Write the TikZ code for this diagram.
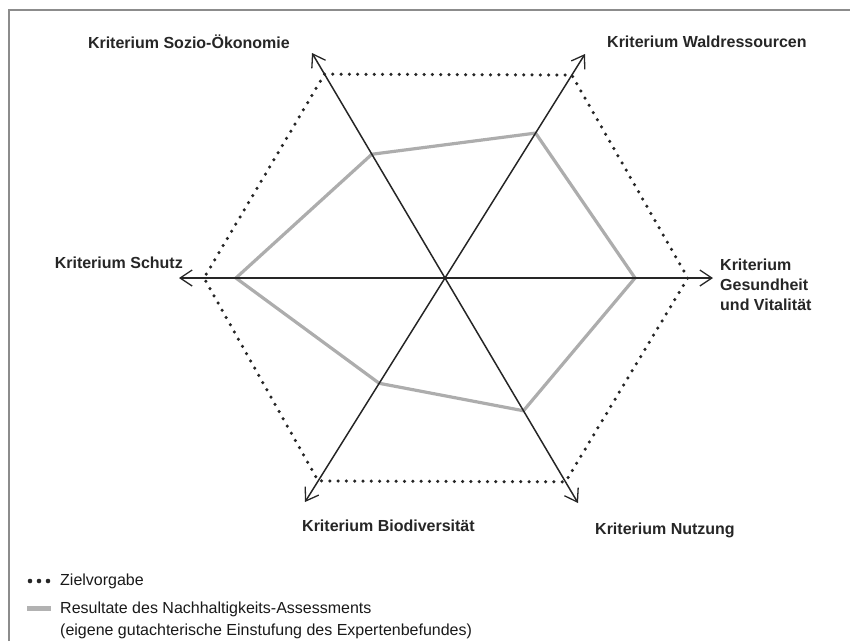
\documentclass[tikz,border=0pt]{standalone}
\usepackage{fontspec}
\setmainfont{Liberation Sans}
\usetikzlibrary{arrows.meta,calc}
\begin{document}
\begin{tikzpicture}[x=1pt,y=-1pt,
  axisline/.style={line width=1.5pt, draw=black!85, -{Straight Barb[length=12pt,width=16pt,line width=1.3pt]}},
  target/.style={line width=3.5pt, dash pattern=on 0pt off 8.3pt, line cap=round, draw=black!85},
  result/.style={line width=3.2pt, draw=black!32, line join=miter},
  lbl/.style={font=\fontsize{16}{20}\selectfont\bfseries, text=black!85, inner sep=0pt},
  leg/.style={font=\fontsize{16}{19}\selectfont, text=black!90, inner sep=0pt, anchor=west}
]
\useasboundingbox (0,0) rectangle (850,641);
\draw[black!45, line width=1.5pt] (9,641) -- (9,10) -- (850,10);

\coordinate (C) at (445,278);
\coordinate (tSO) at (312,53);
\coordinate (tWR) at (585,54);
\coordinate (tGV) at (713,278);
\coordinate (tNU) at (578,503);
\coordinate (tBD) at (305,502);
\coordinate (tSC) at (179,278);

% target hexagon
\draw[target] ($(C)!0.906!(tSO)$) -- ($(C)!0.906!(tWR)$) -- ($(C)!0.906!(tGV)$)
  -- ($(C)!0.906!(tNU)$) -- ($(C)!0.906!(tBD)$) -- ($(C)!0.906!(tSC)$) -- cycle;

% result polygon
\draw[result] ($(C)!0.55!(tSO)$) -- ($(C)!0.647!(tWR)$) -- ($(C)!0.709!(tGV)$)
  -- ($(C)!0.59!(tNU)$) -- ($(C)!0.47!(tBD)$) -- ($(C)!0.786!(tSC)$) -- cycle;

% axes
\foreach \t in {tSO,tWR,tGV,tNU,tBD,tSC} \draw[axisline] (C) -- (\t);

% labels
\node[lbl, anchor=east] (lSO) at (290,42) {Kriterium Sozio-Ökonomie};
\node[lbl, anchor=west] (lWR) at (607,42) {Kriterium Waldressourcen};
\node[lbl, anchor=east] (lSC) at (183,263) {Kriterium Schutz};
\node[lbl, anchor=west, align=left] (lGV) at (720,285) {Kriterium\\Gesundheit\\und Vitalität};
\node[lbl, anchor=west] (lBD) at (302,526) {Kriterium Biodiversität};
\node[lbl, anchor=west] (lNU) at (595,530) {Kriterium Nutzung};

% legend
\foreach \x in {30,39,48} \fill[black!85] (\x,581) circle (2.3pt);
\node[leg] (lz) at (60,581) {Zielvorgabe};
\fill[black!30] (27,606) rectangle (51,611);
\node[leg] (lr1) at (60,609) {Resultate des Nachhaltigkeits-Assessments};
\node[leg] (lr2) at (60,631) {(eigene gutachterische Einstufung des Expertenbefundes)};
\end{tikzpicture}
\end{document}
